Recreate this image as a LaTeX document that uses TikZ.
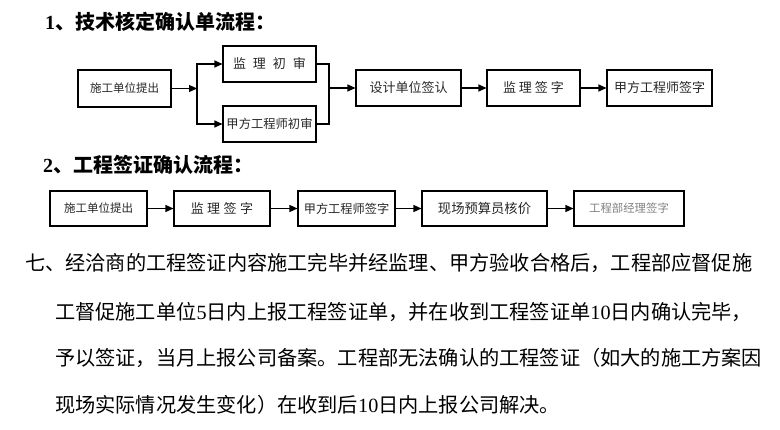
\documentclass[tikz,border=0pt]{standalone}
\usepackage{fontspec}
\usetikzlibrary{arrows.meta}
\newfontfamily\cjk{Noto Sans CJK SC}
\newfontfamily\tnr{Liberation Serif}
\newcommand{\fs}[1]{\fontsize{#1pt}{#1pt}\selectfont}
\begin{document}
\begin{tikzpicture}[x=1pt,y=-1pt,
  box/.style={draw=black,line width=1.1pt,inner sep=0pt,minimum height=36pt,text=black!85,font=\cjk},
  arr/.style={line width=1.1pt,-{Triangle[length=8pt,width=7pt]}},
  ln/.style={line width=1.1pt},
  title/.style={anchor=west,inner sep=0pt,font=\cjk\bfseries\fs{20}},
  para/.style={anchor=west,inner sep=0pt,font=\cjk\fs{20.2}}]
\useasboundingbox (0,0) rectangle (780,430);
% titles
\node[title] (t1) at (45,22) {{\tnr\bfseries 1}、技术核定确认单流程：};
\node[title] (t2) at (43,165) {{\tnr\bfseries 2}、工程签证确认流程：};
% row 1
\node[box,minimum width=93pt,minimum height=37pt] (a1) at (124.5,88.5) {\fs{11.5}施工单位提出};
\node[box,minimum width=93pt] (b1) at (269.5,64) {\fs{13}监\hspace{7pt}理\hspace{7pt}初\hspace{7pt}审};
\node[box,minimum width=93pt] (c1) at (269.5,124) {\fs{12.3}甲方工程师初审};
\node[box,minimum width=105pt] (d1) at (408.5,88) {\fs{13}设计单位签认};
\node[box,minimum width=93pt] (e1) at (533.5,88) {\fs{13}监\hspace{3pt}理\hspace{3pt}签\hspace{3pt}字};
\node[box,minimum width=105pt] (f1) at (659.5,88) {\fs{13}甲方工程师签字};
\coordinate (s1) at (197,88.5);
\coordinate (m1) at (329,88);
\draw[arr] (a1.east) -- (s1);
\draw[arr] (s1 |- c1.west) -- (s1 |- b1.west) -- (b1.west);
\draw[arr] (s1) -- (s1 |- c1.west) -- (c1.west);
\draw[ln] (b1.east) -- (m1 |- b1.east) -- (m1 |- c1.east) -- (c1.east);
\draw[arr] (m1) -- (d1.west);
\draw[arr] (d1.east) -- (e1.west);
\draw[arr] (e1.east) -- (f1.west);
% row 2
\node[box,minimum width=97pt,minimum height=35pt] (a2) at (98.5,208.5) {\fs{11.5}施工单位提出};
\node[box,minimum width=96pt,minimum height=35pt] (b2) at (222,208.5) {\fs{13}监\hspace{3.5pt}理\hspace{3.5pt}签\hspace{3.5pt}字};
\node[box,minimum width=97pt,minimum height=35pt] (c2) at (346.5,208.5) {\fs{12.2}甲方工程师签字};
\node[box,minimum width=125pt,minimum height=35pt] (d2) at (484.5,208.5) {\fs{13.3}现场预算员核价};
\node[box,minimum width=110pt,minimum height=35pt,text=black!50] (e2) at (629,208.5) {\fs{11.4}工程部经理签字};
\draw[arr] (a2.east) -- (b2.west);
\draw[arr] (b2.east) -- (c2.west);
\draw[arr] (c2.east) -- (d2.west);
\draw[arr] (d2.east) -- (e2.west);
% paragraph
\node[para] (p1) at (25,263) {七、经洽商的工程签证内容施工完毕并经监理、甲方验收合格后，工程部应督促施};
\node[para] (p2) at (55,312) {工督促施工单位{\tnr 5}日内上报工程签证单，并在收到工程签证单{\tnr 10}日内确认完毕，};
\node[para] (p3) at (55,358) {予以签证，当月上报公司备案。工程部无法确认的工程签证（如大的施工方案因};
\node[para] (p4) at (55,405) {现场实际情况发生变化）在收到后{\tnr 10}日内上报公司解决。};
\end{tikzpicture}
\end{document}
